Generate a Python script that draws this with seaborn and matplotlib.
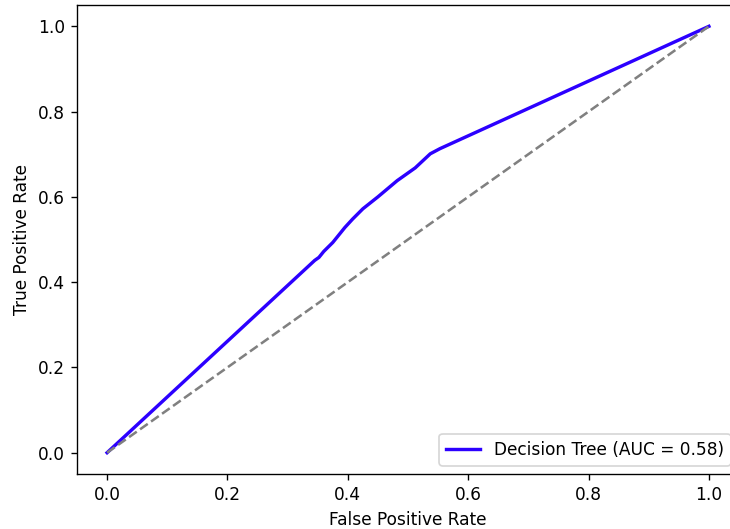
"""
plot.py
=======
ROC curve for the decision tree classifier, with the chance diagonal.
"""

import pandas as pd
import matplotlib
matplotlib.use("Agg")
import matplotlib.pyplot as plt
import seaborn as sns

# ---------------------------------------------------------------------------
# Data
# ---------------------------------------------------------------------------

fpr = [0.0, 0.345, 0.352, 0.36, 0.375, 0.395, 0.408, 0.425, 0.45,
       0.482, 0.512, 0.537, 0.553, 1.0]
tpr = [0.0, 0.451, 0.458, 0.472, 0.493, 0.528, 0.548, 0.572, 0.600,
       0.638, 0.668, 0.701, 0.713, 1.0]
diag = [0.0, 1.0]
auc_value = 0.58
model_name = "Decision Tree"

roc = pd.DataFrame({"FPR": fpr, "TPR": tpr})
chance = pd.DataFrame({"x": diag, "y": diag})

# ---------------------------------------------------------------------------
# Plot
# ---------------------------------------------------------------------------

# reference looks like a ~122 dpi render, so draw at that scale
DPI = 122
fig = plt.figure(figsize=(730 / DPI, 529 / DPI), dpi=DPI)
# axes runs slightly past the right edge, as in the cropped reference
ax = fig.add_axes([77 / 730, 55 / 529, 662 / 730, 469 / 529])

sns.lineplot(
    data=roc,
    x="FPR",
    y="TPR",
    ax=ax,
    color="#2c00ff",
    linewidth=2,
    estimator=None,
    sort=False,
    label=f"{model_name} (AUC = {auc_value:.2f})"
)
sns.lineplot(
    data=chance,
    x="x",
    y="y",
    ax=ax,
    color="gray",
    linestyle="--",
    linewidth=1.5,
    estimator=None
)

ax.set_xlabel("False Positive Rate")
ax.set_ylabel("True Positive Rate")
ax.legend(loc="lower right")
# right spine falls outside the cropped image in the reference
ax.spines["right"].set_visible(False)

fig.savefig("out.png", dpi=DPI)
